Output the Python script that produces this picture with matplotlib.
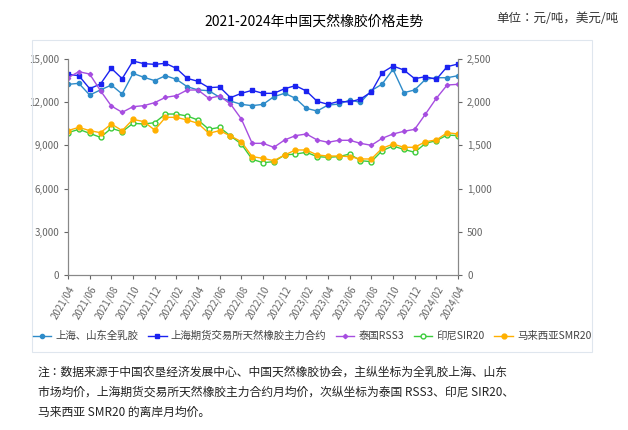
import numpy as np
import matplotlib.pyplot as plt
from matplotlib.patches import Rectangle

plt.rcParams['font.family'] = ['Noto Sans CJK JP', 'Noto Sans CJK SC', 'DejaVu Sans']

months = [f'{y}/{m:02d}' for y in (2021, 2022, 2023, 2024) for m in range(1, 13)]
months = months[3:40]  # 2021/04 .. 2024/04

# left axis, yuan/ton
sh_sd = [13240, 13310, 12500, 12850, 13190, 12570, 14000, 13730, 13500, 13840, 13590, 13080, 12850,
         12800, 12340, 12080, 11850, 11760, 11850, 12380, 12620, 12270, 11570, 11390, 11800, 11870,
         12150, 11990, 12800, 13260, 14280, 12660, 12850, 13590, 13700, 13700, 13840]
shfe = [13935, 13843, 12940, 13264, 14352, 13634, 14861, 14676, 14630, 14699, 14352, 13657, 13449,
        13009, 13056, 12315, 12616, 12824, 12616, 12616, 12940, 13148, 12778, 12060, 11852, 12060,
        12014, 12222, 12708, 14050, 14514, 14236, 13634, 13773, 13588, 14468, 14653]
# right axis, USD/ton
rss3 = [2284, 2353, 2326, 2133, 1956, 1883, 1948, 1960, 1995, 2056, 2076, 2141, 2141, 2045, 2072,
        1979, 1806, 1524, 1524, 1478, 1563, 1613, 1632, 1563, 1536, 1559, 1559, 1524, 1501, 1582,
        1632, 1663, 1686, 1863, 2045, 2199, 2207]
sir20 = [1647, 1686, 1640, 1593, 1698, 1659, 1755, 1748, 1763, 1863, 1863, 1840, 1794, 1686, 1709,
         1609, 1516, 1339, 1300, 1312, 1389, 1400, 1420, 1370, 1362, 1370, 1400, 1323, 1312, 1439,
         1493, 1454, 1420, 1524, 1555, 1620, 1613]
smr20 = [1671, 1709, 1671, 1647, 1748, 1671, 1802, 1775, 1678, 1825, 1825, 1794, 1755, 1640, 1671,
         1609, 1543, 1370, 1350, 1323, 1389, 1447, 1447, 1389, 1377, 1377, 1370, 1343, 1343, 1466,
         1516, 1478, 1478, 1543, 1563, 1647, 1632]

fig = plt.figure(figsize=(6.28, 4.3), dpi=100)
fig.patches.append(Rectangle((32 / 628, 1 - 352 / 430), 560 / 628, 312 / 430, transform=fig.transFigure,
                             fill=False, edgecolor='#dfe6ee', lw=0.8))
ax = fig.add_axes([68 / 628, 1 - 275 / 430, 390 / 628, 216 / 430])
ax2 = ax.twinx()
x = np.arange(len(months))

l1, = ax.plot(x, sh_sd, color='#2e8bc9', marker='o', ms=3, lw=1.0, label='上海、山东全乳胶')
l2, = ax.plot(x, shfe, color='#1a22f0', marker='s', ms=3, lw=1.0, label='上海期货交易所天然橡胶主力合约')
l3, = ax2.plot(x, rss3, color='#a64de0', marker='D', ms=2.2, lw=1.0, label='泰国RSS3')
l4, = ax2.plot(x, sir20, color='#3ccc3c', marker='o', ms=3.5, mfc='white', lw=1.0, label='印尼SIR20')
l5, = ax2.plot(x, smr20, color='#ffb000', marker='o', ms=3.5, lw=1.0, label='马来西亚SMR20')

ax.set_ylim(0, 15000)
ax2.set_ylim(0, 2500)
ax.set_xlim(0, len(months) - 1)
ax.set_yticks(range(0, 15001, 3000))
ax.set_yticklabels([f'{v:,}' for v in range(0, 15001, 3000)])
ax2.set_yticks(range(0, 2501, 500))
ax2.set_yticklabels([f'{v:,}' for v in range(0, 2501, 500)])
ax.set_xticks(x[::2])
ax.set_xticklabels(months[::2], rotation=60, ha='right', rotation_mode='anchor')
for a in (ax, ax2):
    a.tick_params(labelsize=7, colors='#666666', length=3)
    a.spines['top'].set_visible(False)
    for s in ('left', 'right', 'bottom'):
        a.spines[s].set_color('#888888')

fig.legend(handles=[l1, l2, l3, l4, l5], loc='center', bbox_to_anchor=(312 / 628, 1 - 336 / 430),
           ncol=5, frameon=False, fontsize=7.5, handlelength=1.8, columnspacing=0.9, handletextpad=0.4,
           labelcolor='#444444')

fig.text(0.5, 1 - 22 / 430, '2021-2024年中国天然橡胶价格走势', ha='center', va='center', fontsize=10)
fig.text(0.985, 1 - 18 / 430, '单位：元/吨，美元/吨', ha='right', va='center', fontsize=9, color='#333333')

note = ['注：数据来源于中国农垦经济发展中心、中国天然橡胶协会，主纵坐标为全乳胶上海、山东',
        '市场均价，上海期货交易所天然橡胶主力合约月均价，次纵坐标为泰国 RSS3、印尼 SIR20、',
        '马来西亚 SMR20 的离岸月均价。']
for i, t in enumerate(note):
    fig.text(38 / 628, 1 - (372 + 20 * i) / 430, t, ha='left', va='center', fontsize=8.5, color='#222222')

fig.savefig('out.png', dpi=100)
